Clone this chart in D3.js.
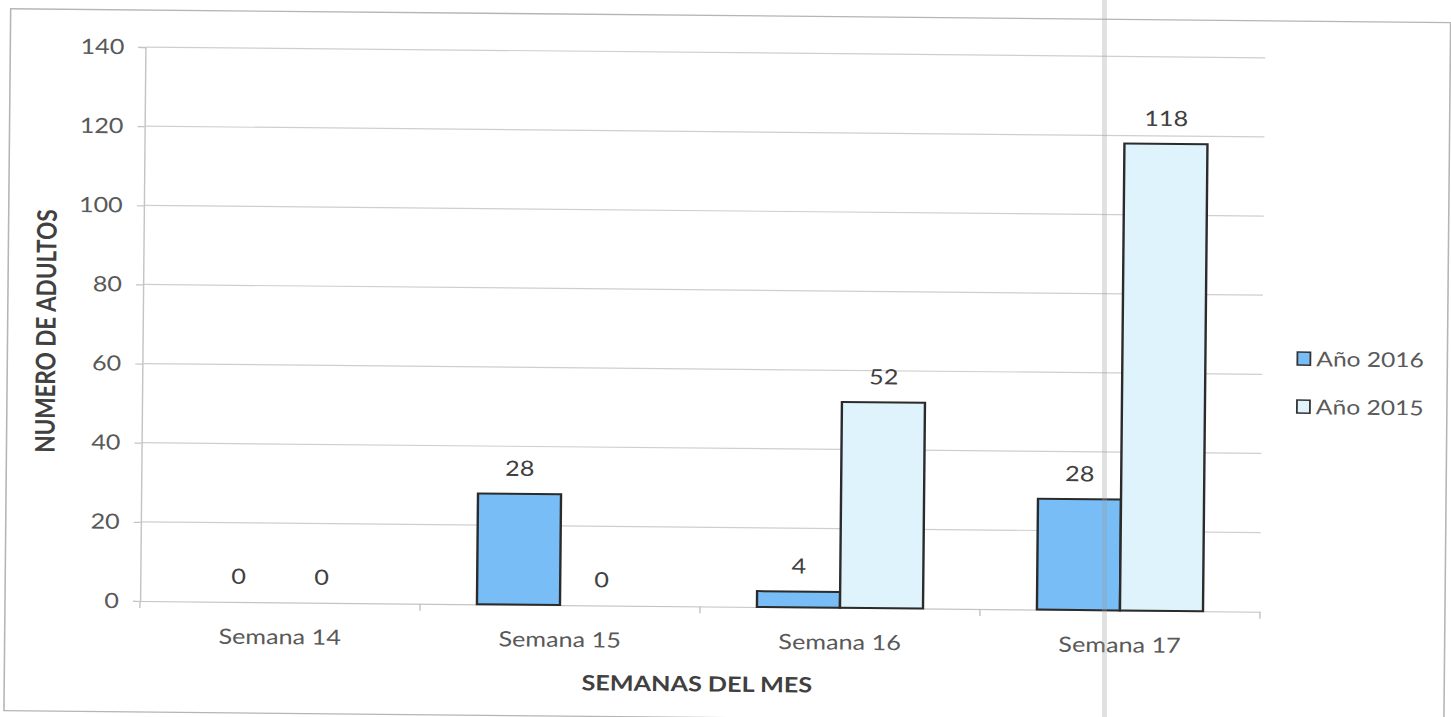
<!DOCTYPE html>
<html>
<head>
<meta charset="utf-8">
<script src="https://cdn.jsdelivr.net/npm/d3@7"></script>
<style>
  html, body { margin: 0; padding: 0; background: #ffffff; }
  svg { display: block; }
  text { font-family: Lato, "Open Sans", sans-serif; }
</style>
</head>
<body>
<script>
// ---- data ----
const categories = ["Semana 14", "Semana 15", "Semana 16", "Semana 17"];
const seriesNames = ["Año 2016", "Año 2015"];
const values2016 = [0, 28, 4, 28];
const values2015 = [0, 0, 52, 118];
const yTicks = [0, 20, 40, 60, 80, 100, 120, 140];
const yTitle = "NUMERO DE ADULTOS";
const xTitle = "SEMANAS DEL MES";

// ---- layout ----
const W = 1451, H = 717;
const sx = 1.2;              // horizontal stretch of the scanned page
const angle = 0.55;          // slight tilt of the scan
const plotLeft = 140 / sx, plotRight = 1260 / sx;
const plotTop = 47, plotBottom = 601;
const colors = { "Año 2016": "#78bdf5", "Año 2015": "#def3fb" };

const svg = d3.select("body").append("svg").attr("width", W).attr("height", H);

const root = svg.append("g")
  .attr("transform", `rotate(${angle},140,601) scale(${sx},1)`);

// frame
root.append("rect")
  .attr("x", 5 / sx).attr("y", 10)
  .attr("width", (1445 - 5) / sx).attr("height", 702)
  .attr("fill", "none").attr("stroke", "#b5b5b5").attr("stroke-width", 1.3);

const x = d3.scaleBand().domain(categories).range([plotLeft, plotRight]).paddingInner(0).paddingOuter(0);
const xs = d3.scaleBand().domain(seriesNames).range([0, x.bandwidth()]).paddingInner(0).paddingOuter(0.686);
const y = d3.scaleLinear().domain([0, 140]).range([plotBottom, plotTop]);

// gridlines
root.append("g").selectAll("line").data(yTicks.filter(d => d > 0)).join("line")
  .attr("x1", plotLeft).attr("x2", plotRight)
  .attr("y1", d => y(d)).attr("y2", d => y(d))
  .attr("stroke", "#cfcfcf").attr("stroke-width", 1.2);

// y axis
const yAxis = root.append("g").attr("transform", `translate(${plotLeft},0)`)
  .call(d3.axisLeft(y).tickValues(yTicks).tickSize(7 / sx).tickPadding(14 / sx).tickFormat(d3.format("d")));
yAxis.select(".domain").attr("stroke", "#c4c4c4").attr("stroke-width", 1.2);
yAxis.selectAll(".tick line").attr("stroke", "#c4c4c4").attr("stroke-width", 1.2);
yAxis.selectAll(".tick text").attr("fill", "#595959").style("font-size", "21px").attr("font-family", "Lato");

// x axis
const xAxis = root.append("g").attr("transform", `translate(0,${plotBottom})`)
  .call(d3.axisBottom(x).tickSize(0).tickPadding(27).tickSizeOuter(0));
xAxis.select(".domain").attr("stroke", "#c4c4c4").attr("stroke-width", 1.2);
xAxis.selectAll(".tick text").attr("fill", "#595959").style("font-size", "21px").attr("font-family", "Lato");
// category boundary ticks
const bounds = categories.map(c => x(c)).concat([plotRight]);
xAxis.append("g").selectAll("line").data(bounds).join("line")
  .attr("x1", d => d).attr("x2", d => d).attr("y1", 0).attr("y2", 7)
  .attr("stroke", "#c4c4c4").attr("stroke-width", 1.2);

// bars
const rows = [];
categories.forEach((c, i) => {
  rows.push({ cat: c, s: "Año 2016", v: values2016[i] });
  rows.push({ cat: c, s: "Año 2015", v: values2015[i] });
});

root.append("g").selectAll("rect").data(rows.filter(d => d.v > 0)).join("rect")
  .attr("x", d => x(d.cat) + xs(d.s))
  .attr("y", d => y(d.v))
  .attr("width", xs.bandwidth())
  .attr("height", d => y(0) - y(d.v))
  .attr("fill", d => colors[d.s])
  .attr("stroke", "#2b2b2b").attr("stroke-width", 2);

// value labels
root.append("g").selectAll("text").data(rows).join("text")
  .attr("x", d => x(d.cat) + xs(d.s) + xs.bandwidth() / 2)
  .attr("y", d => y(d.v) - 18)
  .attr("text-anchor", "middle")
  .attr("fill", "#404040").style("font-size", "21px")
  .text(d => d.v);

// axis titles
root.append("text")
  .attr("x", (plotLeft + plotRight) / 2 - 2).attr("y", 686)
  .attr("text-anchor", "middle").attr("fill", "#404040")
  .style("font-size", "21px").style("font-weight", "bold")
  .text(xTitle);

root.append("text")
  .attr("transform", `translate(${53 / sx},${(plotTop + plotBottom) / 2 + 8}) rotate(-90)`)
  .attr("text-anchor", "middle").attr("fill", "#404040")
  .style("font-size", "22.5px").style("font-weight", "bold")
  .text(yTitle);

// legend
const legend = root.append("g").attr("transform", `translate(${1295 / sx},0)`);
const legY = [348, 396];
seriesNames.forEach((s, i) => {
  legend.append("rect")
    .attr("x", 0).attr("y", legY[i] - 7)
    .attr("width", 13 / sx).attr("height", 13)
    .attr("fill", colors[s]).attr("stroke", "#333").attr("stroke-width", 1.5);
  legend.append("text")
    .attr("x", 19 / sx).attr("y", legY[i] + 7)
    .attr("fill", "#595959").style("font-size", "20.5px")
    .text(s);
});

// scanner streak
svg.append("rect").attr("x", 1102).attr("y", 0).attr("width", 5).attr("height", H)
  .attr("fill", "#9a9a9a").attr("opacity", 0.3);
</script>
</body>
</html>
